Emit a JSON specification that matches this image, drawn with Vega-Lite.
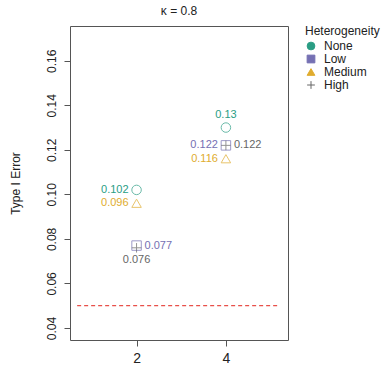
{
  "$schema": "https://vega.github.io/schema/vega-lite/v6.json",
  "autosize": "none",
  "width": 218,
  "height": 314,
  "padding": {"left": 70, "top": 26, "right": 100, "bottom": 30},
  "background": "white",
  "config": {
    "font": "Liberation Sans",
    "view": {"stroke": "#555555", "strokeWidth": 1},
    "axis": {"grid": false, "domain": false, "tickColor": "#555555", "tickSize": 6, "labelColor": "#222222", "titleColor": "#222222", "labelFont": "Liberation Sans", "titleFont": "Liberation Sans", "titleFontWeight": "normal"}
  },
  "title": {"text": "κ = 0.8", "fontSize": 12, "fontWeight": "normal", "font": "Liberation Sans", "color": "#222222", "offset": 8, "anchor": "middle"},
  "datasets": {
    "pts": [
      {"k": 2, "group": "None", "value": 0.102},
      {"k": 4, "group": "None", "value": 0.13},
      {"k": 2, "group": "Low", "value": 0.077},
      {"k": 4, "group": "Low", "value": 0.122},
      {"k": 2, "group": "Medium", "value": 0.096},
      {"k": 4, "group": "Medium", "value": 0.116},
      {"k": 2, "group": "High", "value": 0.076},
      {"k": 4, "group": "High", "value": 0.122}
    ],
    "ref": [{"x1": 0.67, "x2": 5.21, "y": 0.05}]
  },
  "layer": [
    {
      "data": {"name": "ref"},
      "mark": {"type": "rule", "color": "#E8504A", "strokeDash": [4, 3], "strokeWidth": 1.2},
      "encoding": {
        "x": {"field": "x1", "type": "quantitative", "scale": {"domain": [0.51, 5.39], "nice": false, "zero": false}},
        "x2": {"field": "x2"},
        "y": {"field": "y", "type": "quantitative"}
      }
    },
    {
      "data": {"name": "pts"},
      "mark": {"type": "point", "filled": false, "strokeWidth": 1, "size": 90},
      "encoding": {
        "x": {"field": "k", "type": "quantitative", "scale": {"domain": [0.51, 5.39], "nice": false, "zero": false},
              "axis": {"values": [2, 4], "title": null, "labelFontSize": 14, "labelPadding": 5}},
        "y": {"field": "value", "type": "quantitative", "scale": {"domain": [0.0346, 0.1756], "nice": false, "zero": false},
              "axis": {"values": [0.04, 0.06, 0.08, 0.1, 0.12, 0.14, 0.16], "format": ".2f", "labelAngle": -90, "labelAlign": "center", "labelBaseline": "bottom", "labelPadding": 6, "labelFontSize": 12, "title": "Type I Error", "titleFontSize": 12, "titlePadding": 23}},
        "color": {"field": "group", "type": "nominal",
                  "scale": {"domain": ["None", "Low", "Medium", "High"], "range": ["#2A9D84", "#7570B3", "#E0AC2E", "#666666"]},
                  "legend": {"title": "Heterogeneity", "orient": "none", "legendX": 235, "legendY": 0, "titleFontSize": 12, "titleFontWeight": "normal", "titleColor": "#222222", "labelFontSize": 12, "labelColor": "#222222", "symbolStrokeWidth": 1, "symbolSize": 60, "symbolOpacity": 1, "rowPadding": 1, "titlePadding": 2, "labelOffset": 7, "padding": 0, "offset": 0,
                             "encode": {"symbols": {"enter": {"fill": {"value": "transparent"}}, "update": {"fill": {"value": "transparent"}, "fillOpacity": {"value": 0}}}}}},
        "shape": {"field": "group", "type": "nominal",
                  "scale": {"domain": ["None", "Low", "Medium", "High"], "range": ["circle", "square", "triangle-up", "M-1,0L1,0M0,-1L0,1"]}}
      }
    },
    {
      "data": {"name": "pts"},
      "transform": [{"filter": "(datum.group == 'None' && datum.k == 2) || datum.group == 'Medium' || (datum.group == 'Low' && datum.k == 4)"}],
      "mark": {"type": "text", "align": "right", "baseline": "middle", "dx": -8, "fontSize": 11},
      "encoding": {
        "x": {"field": "k", "type": "quantitative"},
        "y": {"field": "value", "type": "quantitative"},
        "text": {"field": "value", "type": "quantitative", "format": ".3~f"},
        "color": {"field": "group", "type": "nominal", "legend": null}
      }
    },
    {
      "data": {"name": "pts"},
      "transform": [{"filter": "(datum.group == 'Low' && datum.k == 2) || (datum.group == 'High' && datum.k == 4)"}],
      "mark": {"type": "text", "align": "left", "baseline": "middle", "dx": 8, "fontSize": 11},
      "encoding": {
        "x": {"field": "k", "type": "quantitative"},
        "y": {"field": "value", "type": "quantitative"},
        "text": {"field": "value", "type": "quantitative", "format": ".3~f"},
        "color": {"field": "group", "type": "nominal", "legend": null}
      }
    },
    {
      "data": {"name": "pts"},
      "transform": [{"filter": "datum.group == 'None' && datum.k == 4"}],
      "mark": {"type": "text", "align": "center", "baseline": "middle", "dy": -13, "fontSize": 11},
      "encoding": {
        "x": {"field": "k", "type": "quantitative"},
        "y": {"field": "value", "type": "quantitative"},
        "text": {"field": "value", "type": "quantitative", "format": ".3~f"},
        "color": {"field": "group", "type": "nominal", "legend": null}
      }
    },
    {
      "data": {"name": "pts"},
      "transform": [{"filter": "datum.group == 'High' && datum.k == 2"}],
      "mark": {"type": "text", "align": "center", "baseline": "middle", "dy": 12, "fontSize": 11},
      "encoding": {
        "x": {"field": "k", "type": "quantitative"},
        "y": {"field": "value", "type": "quantitative"},
        "text": {"field": "value", "type": "quantitative", "format": ".3~f"},
        "color": {"field": "group", "type": "nominal", "legend": null}
      }
    }
  ]
}
